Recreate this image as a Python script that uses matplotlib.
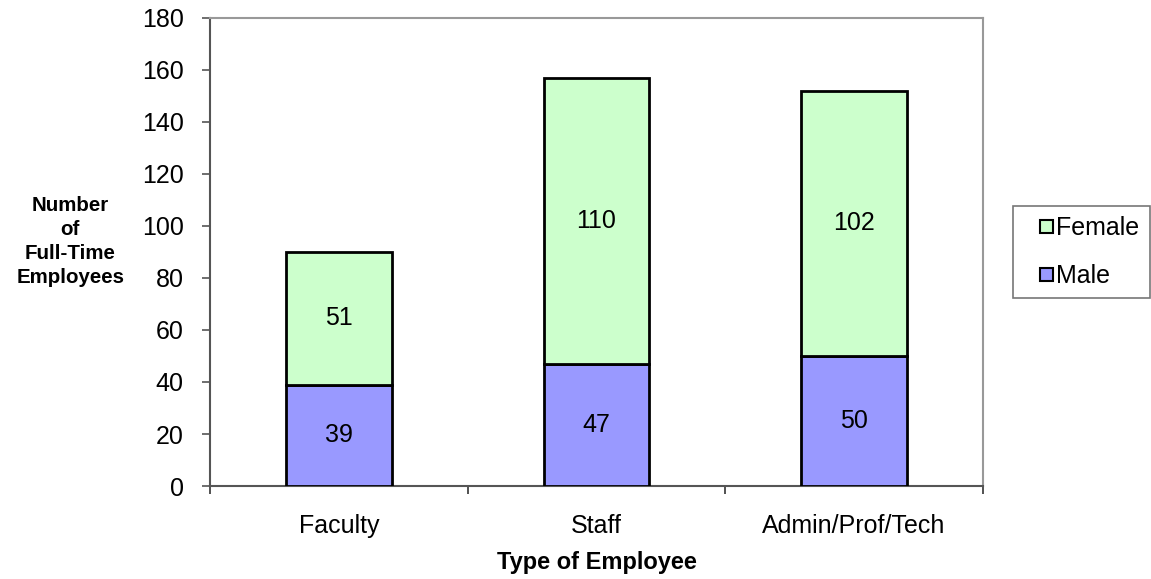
import matplotlib.pyplot as plt
import numpy as np
from matplotlib.patches import Rectangle
from matplotlib.legend_handler import HandlerPatch

categories = ["Faculty", "Staff", "Admin/Prof/Tech"]
male = [39, 47, 50]
female = [51, 110, 102]

plt.rcParams["font.family"] = ["Liberation Sans", "DejaVu Sans"]

fig = plt.figure(figsize=(11.51, 5.79), dpi=100)
ax = fig.add_axes([0.1824, 0.1606, 0.6716, 0.8084])

x = np.arange(len(categories))
w = 0.41
b1 = ax.bar(x, male, w, color="#9999FF", edgecolor="black", linewidth=2, label="Male", zorder=3)
b2 = ax.bar(x, female, w, bottom=male, color="#CCFFCC", edgecolor="black", linewidth=2, label="Female", zorder=3)

for i in range(len(categories)):
    ax.text(x[i], male[i] / 2, str(male[i]), ha="center", va="center", fontsize=18, zorder=4)
    ax.text(x[i], male[i] + female[i] / 2, str(female[i]), ha="center", va="center", fontsize=18, zorder=4)

ax.set_xlim(-0.5, 2.5)
ax.set_ylim(0, 180)
ax.set_yticks(range(0, 181, 20))
ax.set_yticklabels([str(v) for v in range(0, 181, 20)], fontsize=18)
ax.set_xticks(x)
ax.set_xticklabels(categories, fontsize=18)
ax.tick_params(axis="x", length=0, pad=20)
ax.set_xticks([-0.5, 0.5, 1.5, 2.5], minor=True)
ax.tick_params(axis="x", which="minor", length=6, width=1.2, color="#333333", direction="out")
ax.tick_params(axis="y", length=6, width=1.2, color="#555555", pad=13)

for s in ["left", "bottom"]:
    ax.spines[s].set_color("#555555")
    ax.spines[s].set_linewidth(1.5)
for s in ["top", "right"]:
    ax.spines[s].set_color("#999999")
    ax.spines[s].set_linewidth(1.5)

fig.text(0.5182, 0.028, "Type of Employee", ha="center", va="center", fontsize=17, fontweight="bold")
fig.text(0.061, 0.583, "Number\nof\nFull-Time\nEmployees", ha="center", va="center",
         fontsize=14.8, fontweight="bold", linespacing=1.33)


# small square handle pushed to the right of the handle box
def square(legend, orig_handle, xdescent, ydescent, width, height, fontsize):
    s = 0.52 * fontsize
    return Rectangle((-xdescent + width - s, -ydescent + (height - s) / 2), s, s)


handles = [b2.patches[0], b1.patches[0]]
leg = fig.legend(handles, ["Female", "Male"], loc="upper left", bbox_to_anchor=(0.880, 0.645),
                 borderaxespad=0, fontsize=18, frameon=True, fancybox=False,
                 handlelength=1.2, handleheight=0.7, handletextpad=0.1,
                 labelspacing=0.95, borderpad=0.42,
                 handler_map={Rectangle: HandlerPatch(patch_func=square)})
leg.get_frame().set_edgecolor("#555555")
leg.get_frame().set_linewidth(1.2)
for p in leg.get_patches():
    p.set_linewidth(1.5)

fig.savefig("out.png", dpi=100)
